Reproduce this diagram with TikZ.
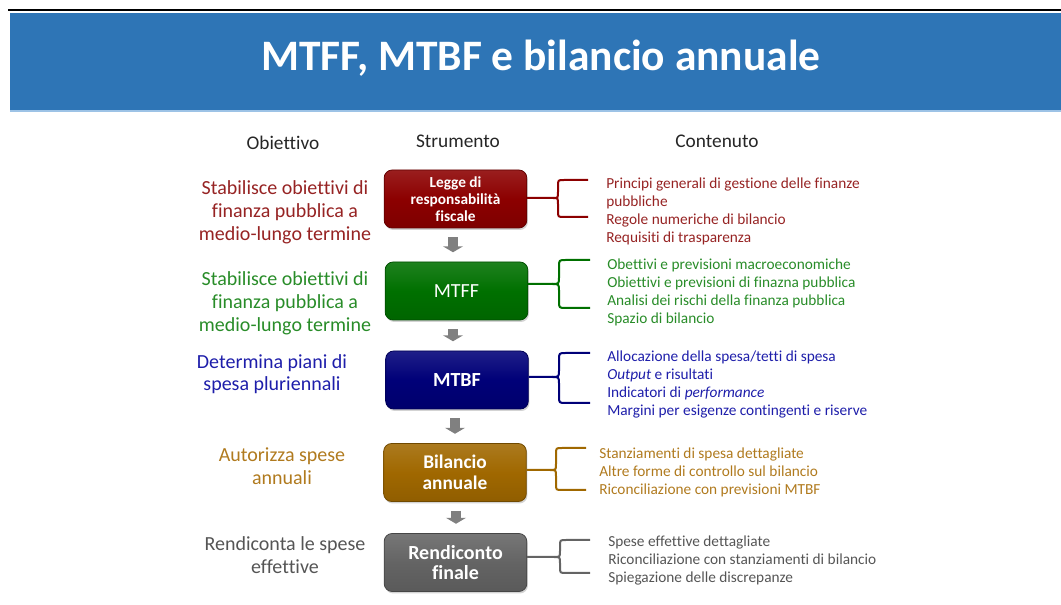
\documentclass[tikz,border=0pt]{standalone}
\usepackage{fontspec}
\setmainfont{Carlito}[Ligatures=NoCommon]
\usetikzlibrary{arrows.meta,shadows}
\definecolor{banner}{RGB}{46,117,182}
\definecolor{bannerline}{RGB}{157,195,230}
\definecolor{cred}{RGB}{140,0,0}
\definecolor{tred}{RGB}{150,35,35}
\definecolor{cgreen}{RGB}{0,112,0}
\definecolor{tgreen}{RGB}{40,140,40}
\definecolor{cblue}{RGB}{0,0,120}
\definecolor{tblue}{RGB}{30,30,170}
\definecolor{cgold}{RGB}{160,104,0}
\definecolor{tgold}{RGB}{176,122,30}
\definecolor{cgray}{RGB}{100,100,100}
\definecolor{tgray}{RGB}{85,85,85}
\definecolor{agray}{RGB}{128,128,128}
\begin{document}
\begin{tikzpicture}[x=0.75pt,y=-0.75pt,
  box/.style={rounded corners=6pt, minimum width=107pt, minimum height=43.5pt,
    text=white, align=center, inner sep=0pt,
    drop shadow={shadow xshift=0.8pt, shadow yshift=-1.5pt, opacity=0.35},
    draw=#1!70!black, line width=0.6pt,
    top color=#1!88!white, bottom color=#1!90!black, middle color=#1},
  lefttext/.style={anchor=base, font=\fontsize{15}{17}\selectfont, inner sep=0pt},
  rtext/.style={anchor=base west, font=\fontsize{11.5}{13.5}\selectfont, inner sep=0pt},
  head/.style={anchor=base, font=\fontsize{14.5}{17}\selectfont, inner sep=0pt, text=black!85},
  brace/.style={line width=1.5pt, #1},
  flow/.style={draw=agray, line width=7.5pt, -{Triangle[width=15pt,length=4.5pt]}, shorten <=6.5pt, shorten >=7pt}
]
\useasboundingbox (0,0) rectangle (1061,605);
% banner
\draw[line width=2.2pt, black] (8,10) -- (1061,10);
\fill[banner] (10,13) rectangle (1061,110);
\fill[bannerline] (10,110) rectangle (1061,112);
\node[text=white, font=\fontsize{32.6}{36}\bfseries, anchor=base] (title) at (541,71) {MTFF, MTBF e bilancio annuale};

% headers
\node[head] (hob) at (283,150) {Obiettivo};
\node[head] (hst) at (458,148) {Strumento};
\node[head] (hco) at (717,148) {Contenuto};

% boxes
\node[box=cred, font=\fontsize{11.5}{12.75}\selectfont\bfseries] (b1) at (455.5,199) {Legge di\\responsabilità\\fiscale};
\node[box=cgreen, font=\fontsize{15}{17}\selectfont] (b2) at (456.5,291) {MTFF};
\node[box=cblue, font=\fontsize{15}{17}\selectfont\bfseries] (b3) at (457,380) {MTBF};
\node[box=cgold, font=\fontsize{14.5}{15.75}\selectfont\bfseries] (b4) at (455,472.5) {Bilancio\\annuale};
\node[box=cgray, font=\fontsize{15}{15}\selectfont\bfseries] (b5) at (455.5,562.5) {Rendiconto\\finale};

% flow arrows
\draw[flow] (b1.south -| 453,0) -- (b2.north -| 453,0);
\draw[flow] (b2.south -| 453,0) -- (b3.north -| 453,0);
\draw[flow] (b3.south -| 455,0) -- (b4.north -| 455,0);
\draw[flow] (b4.south -| 456,0) -- (b5.north -| 456,0);

% braces
\coordinate (k1) at (553,198);
\draw[brace=cred] (b1.east |- k1) -- (k1)
  .. controls (558,198) .. (558,192) -- (558,186) .. controls (558,180) .. (564,180) -- (588,180);
\draw[brace=cred] (k1) .. controls (558,198) .. (558,204) -- (558,211) .. controls (558,217) .. (564,217) -- (588,217);

\coordinate (k2) at (552,284);
\draw[brace=cgreen] (b2.east |- k2) -- (k2)
  .. controls (559,284) .. (559,277) -- (559,267) .. controls (559,260) .. (566,260) -- (590,260);
\draw[brace=cgreen] (k2) .. controls (559,284) .. (559,291) -- (559,301) .. controls (559,308) .. (566,308) -- (590,308);

\coordinate (k3) at (552,377);
\draw[brace=cblue] (b3.east |- k3) -- (k3)
  .. controls (559,377) .. (559,370) -- (559,360) .. controls (559,353) .. (566,353) -- (590,353);
\draw[brace=cblue] (k3) .. controls (559,377) .. (559,384) -- (559,396) .. controls (559,403) .. (566,403) -- (590,403);

\coordinate (k4) at (550,470);
\draw[brace=cgold] (b4.east |- k4) -- (k4)
  .. controls (556,470) .. (556,464) -- (556,454) .. controls (556,448) .. (562,448) -- (586,448);
\draw[brace=cgold] (k4) .. controls (556,470) .. (556,476) -- (556,484) .. controls (556,490) .. (562,490) -- (586,490);

\coordinate (k5) at (554,557);
\draw[brace=cgray] (b5.east |- k5) -- (k5)
  .. controls (560,557) .. (560,551) -- (560,546) .. controls (560,540) .. (566,540) -- (590,540);
\draw[brace=cgray] (k5) .. controls (560,557) .. (560,563) -- (560,567) .. controls (560,573) .. (566,573) -- (590,573);

% left texts
\node[lefttext, text=tred] (l11) at (285,195) {Stabilisce obiettivi di};
\node[lefttext, text=tred] (l12) at (285,218) {finanza pubblica a};
\node[lefttext, text=tred] (l13) at (285,241) {medio-lungo termine};
\node[lefttext, text=tgreen] (l21) at (285,286) {Stabilisce obiettivi di};
\node[lefttext, text=tgreen] (l22) at (285,309) {finanza pubblica a};
\node[lefttext, text=tgreen] (l23) at (285,332) {medio-lungo termine};
\node[lefttext, text=tblue] (l31) at (272,369) {Determina piani di};
\node[lefttext, text=tblue] (l32) at (272,391) {spesa pluriennali};
\node[lefttext, text=tgold] (l41) at (282,462) {Autorizza spese};
\node[lefttext, text=tgold] (l42) at (282,485) {annuali};
\node[lefttext, text=tgray] (l51) at (285,551) {Rendiconta le spese};
\node[lefttext, text=tgray] (l52) at (285,574) {effettive};

% right texts
\node[rtext, text=tred] (r11) at (606,189) {Principi generali di gestione delle finanze};
\node[rtext, text=tred] (r12) at (606,207) {pubbliche};
\node[rtext, text=tred] (r13) at (606,225) {Regole numeriche di bilancio};
\node[rtext, text=tred] (r14) at (606,243) {Requisiti di trasparenza};
\node[rtext, text=tgreen] (r21) at (607,270) {Obettivi e previsioni macroeconomiche};
\node[rtext, text=tgreen] (r22) at (607,288) {Obiettivi e previsioni di finazna pubblica};
\node[rtext, text=tgreen] (r23) at (607,306) {Analisi dei rischi della finanza pubblica};
\node[rtext, text=tgreen] (r24) at (607,324) {Spazio di bilancio};
\node[rtext, text=tblue] (r31) at (607,362) {Allocazione della spesa/tetti di spesa};
\node[rtext, text=tblue] (r32) at (607,380) {\textit{Output} e risultati};
\node[rtext, text=tblue] (r33) at (607,398) {Indicatori di \textit{performance}};
\node[rtext, text=tblue] (r34) at (607,416) {Margini per esigenze contingenti e riserve};
\node[rtext, text=tgold] (r41) at (599,459) {Stanziamenti di spesa dettagliate};
\node[rtext, text=tgold] (r42) at (599,477) {Altre forme di controllo sul bilancio};
\node[rtext, text=tgold] (r43) at (599,495) {Riconciliazione con previsioni MTBF};
\node[rtext, text=tgray] (r51) at (608,547) {Spese effettive dettagliate};
\node[rtext, text=tgray] (r52) at (608,565) {Riconciliazione con stanziamenti di bilancio};
\node[rtext, text=tgray] (r53) at (608,583) {Spiegazione delle discrepanze};
\end{tikzpicture}
\end{document}
